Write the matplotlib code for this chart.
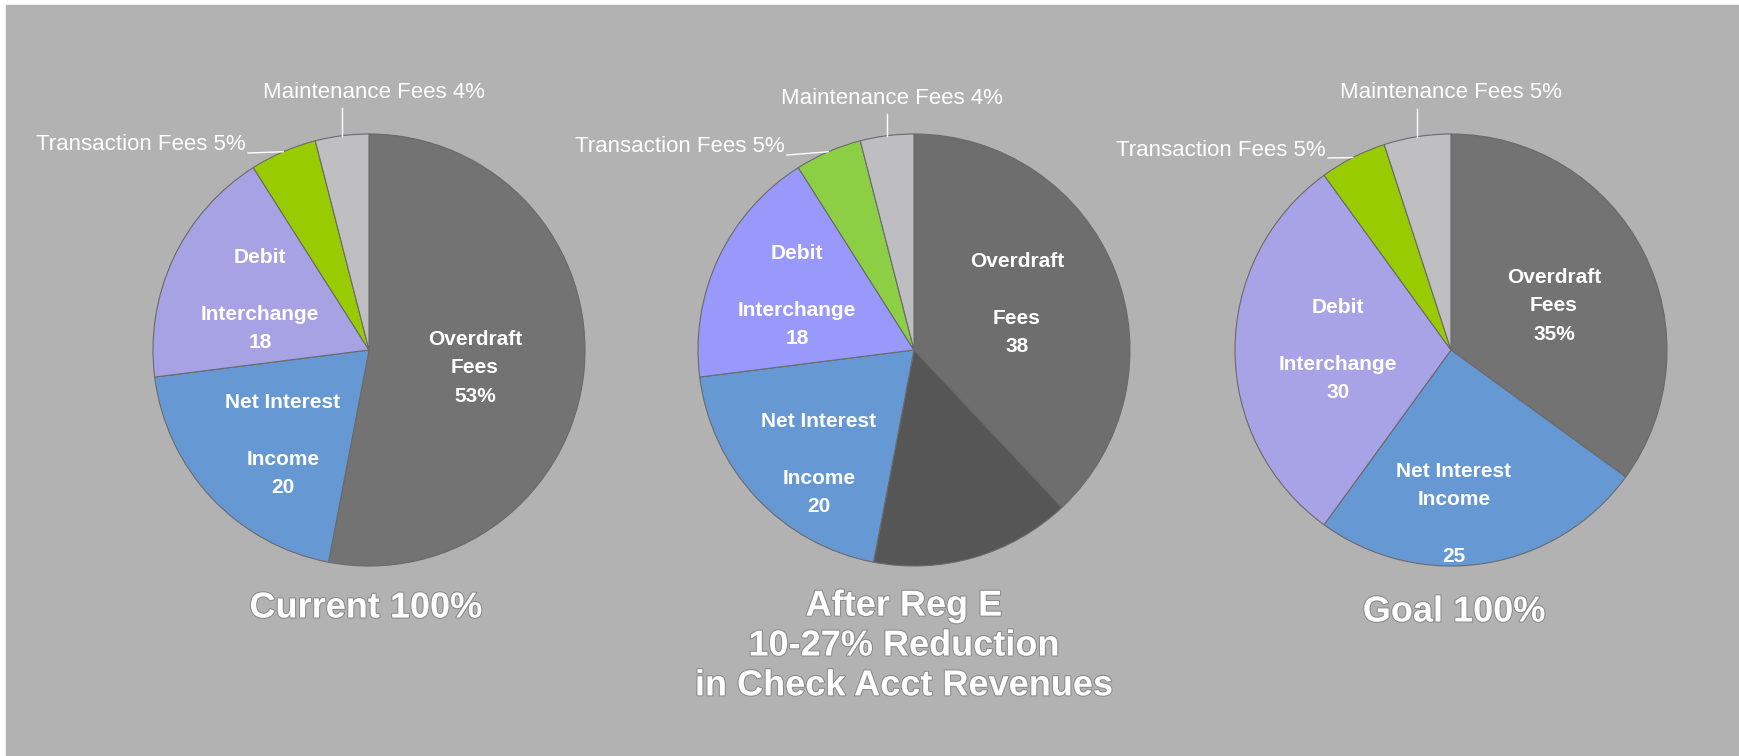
import matplotlib.pyplot as plt
import matplotlib.patheffects as pe
from matplotlib.patches import Rectangle
import numpy as np

plt.rcParams['font.family'] = ['Liberation Sans', 'DejaVu Sans']

# data (percent shares, clockwise from 12 o'clock)
current_vals = [53, 20, 18, 5, 4]
after_vals = [38, 15, 20, 18, 5, 4]
goal_vals = [35, 25, 30, 5, 5]

current_colors = ['#737373', '#6699d4', '#a7a2e4', '#99cc00', '#bfbfc2']
after_colors = ['#6e6e6e', '#565656', '#6699d4', '#9999fc', '#8ccf45', '#bdbdc2']
goal_colors = ['#737373', '#6699d4', '#a8a3e6', '#99cc00', '#bfbfc2']

current_inner = ["Overdraft\nFees\n53%", "Net Interest\n\nIncome\n20", "Debit\n\nInterchange\n18"]
after_inner = ["Overdraft\n\nFees\n38", "Net Interest\n\nIncome\n20", "Debit\n\nInterchange\n18"]
goal_inner = ["Overdraft\nFees\n35%", "Net Interest\nIncome\n\n25", "Debit\n\nInterchange\n30"]

trans_labels = ["Transaction Fees 5%", "Transaction Fees 5%", "Transaction Fees 5%"]
maint_labels = ["Maintenance Fees 4%", "Maintenance Fees 4%", "Maintenance Fees 5%"]
titles = ["Current 100%", "After Reg E\n10-27% Reduction\nin Check Acct Revenues", "Goal 100%"]

W, H = 1740, 756
fig = plt.figure(figsize=(W / 100, H / 100), dpi=100)
fig.patch.set_facecolor('white')
ax = fig.add_axes([0, 0, 1, 1])
ax.add_patch(Rectangle((6, 0), W - 6, H - 5, color='#b2b2b2', zorder=0))

R = 216
centers = [(369, 350), (914, 350), (1451, 350)]
# inner label positions (pixels from top-left): overdraft, net interest, debit
inner_pos = [
    [(475, 368), (283, 445), (260, 300)],
    [(1017, 304), (819, 464), (797, 296)],
    [(1554, 306), (1454, 514), (1338, 350)],
]
trans_text = [(246, 145), (785, 147), (1326, 150)]
maint_text = [(374, 92), (892, 98), (1451, 93)]
title_pos = [(366, 608), (904, 646), (1454, 612)]

all_vals = [current_vals, after_vals, goal_vals]
all_colors = [current_colors, after_colors, goal_colors]
all_inner = [current_inner, after_inner, goal_inner]

for i in range(3):
    cx, cy_top = centers[i]
    cy = H - cy_top
    vals = all_vals[i]
    ax.pie(vals, colors=all_colors[i], startangle=90, counterclock=False,
           center=(cx, cy), radius=R, frame=True,
           wedgeprops=dict(edgecolor='#6a6a6a', linewidth=0.8))

    for lab, (x, y) in zip(all_inner[i], inner_pos[i]):
        ax.text(x, H - y, lab, ha='center', va='center', color='white',
                fontsize=15, fontweight='bold', linespacing=1.62)

    # angles of the two small slices (last two values)
    cum = np.cumsum(vals)
    tot = cum[-1]
    a_trans = np.deg2rad(90 - 360 * (cum[-3] + vals[-2] / 2) / tot)
    a_maint = np.deg2rad(90 - 360 * (cum[-2] + vals[-1] / 2) / tot)

    ex, ey = cx + R * np.cos(a_trans), cy + R * np.sin(a_trans)
    tx, ty = trans_text[i]
    ax.text(tx, H - ty, trans_labels[i], ha='right', va='center', color='white', fontsize=16)
    ax.plot([tx + 2, ex], [H - ty - 8, ey], color='white', lw=1)

    mx, my = cx + R * np.cos(a_maint), cy + R * np.sin(a_maint)
    tx, ty = maint_text[i]
    ax.text(tx, H - ty, maint_labels[i], ha='center', va='center', color='white', fontsize=16)
    ax.plot([mx, mx], [my, H - ty - 16], color='white', lw=1)

    tx, ty = title_pos[i]
    ax.text(tx, H - ty, titles[i], ha='center', va='center', color='white',
            fontsize=26, fontweight='bold', linespacing=1.18,
            path_effects=[pe.withStroke(linewidth=1.5, foreground='#8a8a8a')])

ax.set_xlim(0, W)
ax.set_ylim(0, H)
ax.set_aspect('equal')
ax.axis('off')

plt.savefig('out.png', dpi=100)
